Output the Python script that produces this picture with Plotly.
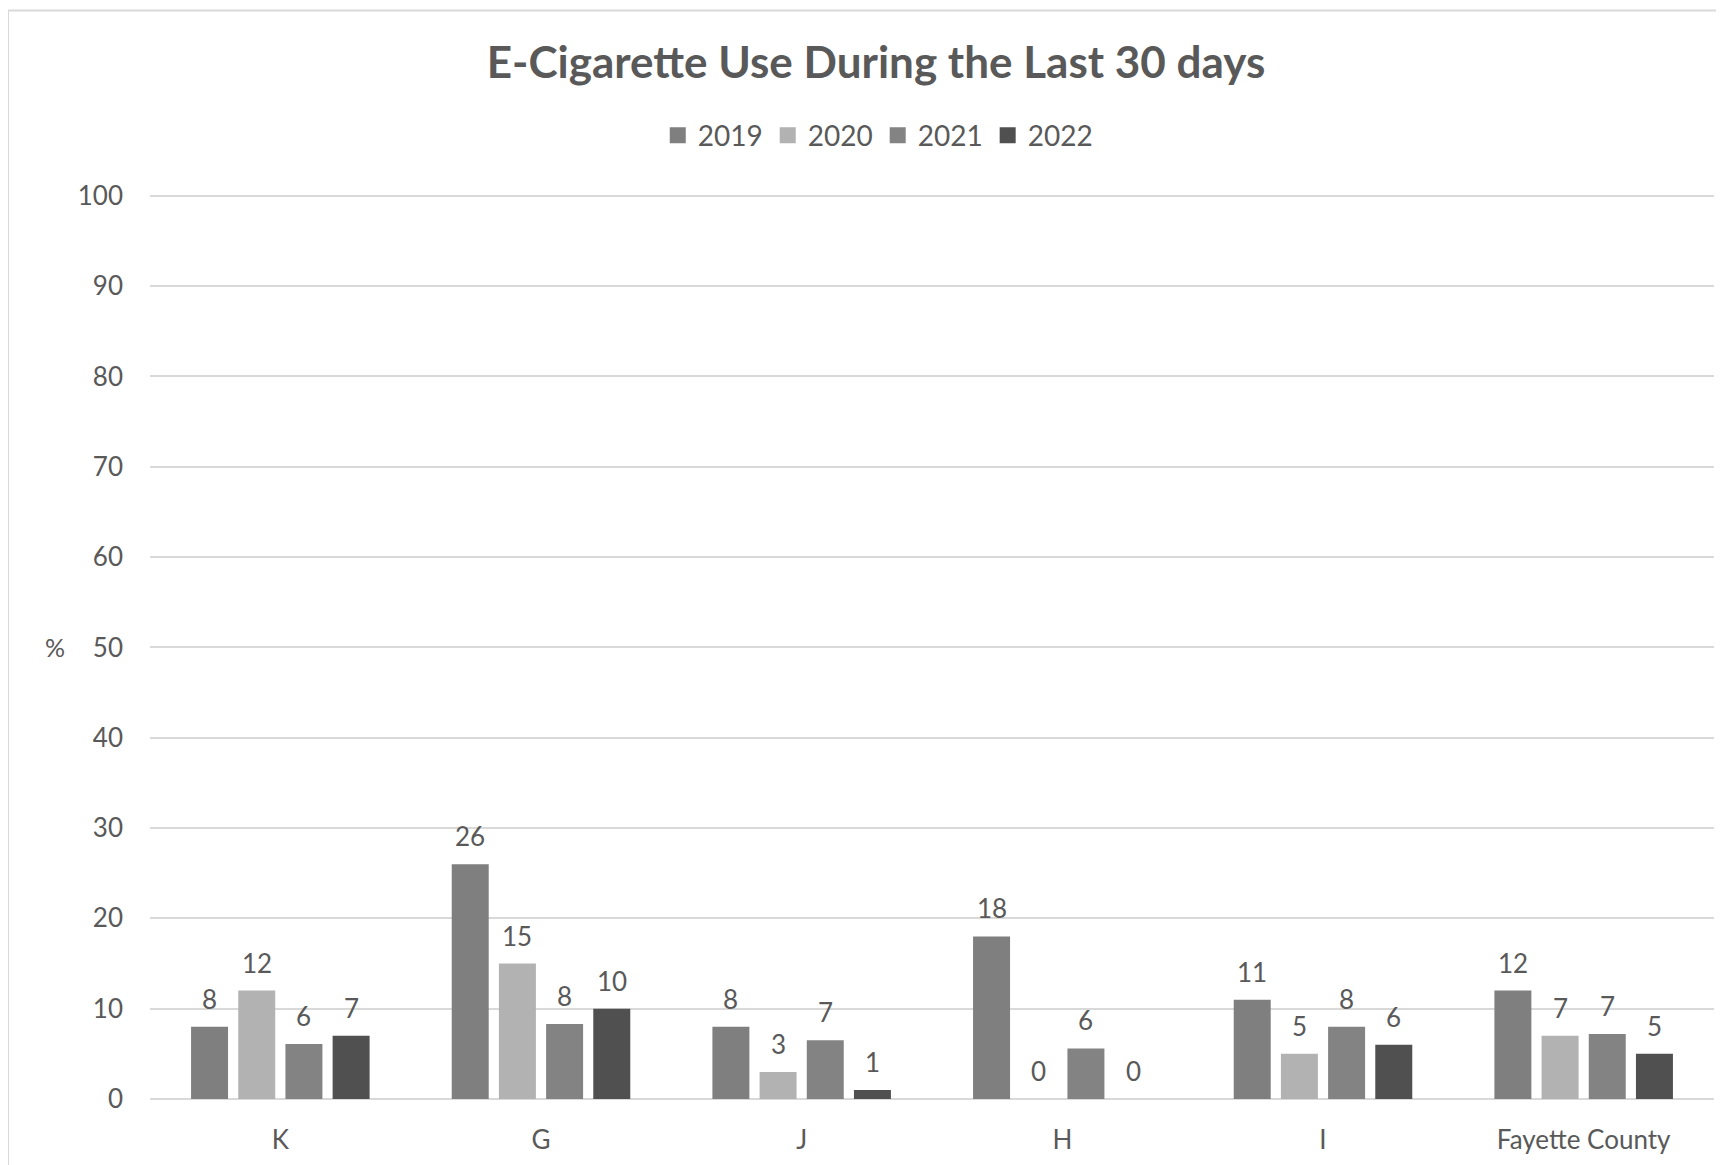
import math
import plotly.graph_objects as go

categories = ["K", "G", "J", "H", "I", "Fayette County"]
years = ["2019", "2020", "2021", "2022"]
v2019 = [8, 26, 8, 18, 11, 12]
v2020 = [12, 15, 3, 0, 5, 7]
v2021 = [6.1, 8.3, 6.5, 5.6, 8, 7.2]
v2022 = [7, 10, 1, 0, 6, 5]
series = [v2019, v2020, v2021, v2022]
colors = ["#7f7f7f", "#b2b2b2", "#838383", "#505050"]

TEXT = "#595959"
FONT = "Lato, Open Sans, sans-serif"
OFF = 8  # default page body margin
W, H = 1724 - OFF, 1165 - OFF
L = 150 - OFF
PR = 1714.5 - OFF
R = W - PR
YMAX = 100.2
UNIT = (1098.3 - 195.3) / 100.0
B = H - (1099.5 - OFF)
T = (196.3 - OFF) - (YMAX - 100) * UNIT

pw = W - L - R
ph = H - T - B

CATW = pw / len(categories)
SLOT = 47.2  # px between bars in a group
GROUP = 4 * SLOT

fig = go.Figure()
for i, (name, vals, col) in enumerate(zip(years, series, colors)):
    fig.add_trace(go.Bar(
        x=categories, y=vals, name=name, showlegend=False,
        marker=dict(color=col, line=dict(width=0)),
    ))
    # legend entry with a larger square
    fig.add_trace(go.Scatter(
        x=[None], y=[None], mode="markers", name=name,
        marker=dict(symbol="square", size=16, color=col),
    ))


def fmt(v):
    return str(int(math.floor(v + 0.5)))


annotations = []
for i, vals in enumerate(series):
    for c, v in zip(categories, vals):
        annotations.append(dict(
            x=c, y=v, xref="x", yref="y", text=fmt(v), showarrow=False,
            xanchor="center", yanchor="middle",
            xshift=(i - 1.5) * SLOT, yshift=28,
            font=dict(size=26, color=TEXT, family=FONT),
        ))
annotations.append(dict(text="%", xref="paper", yref="paper",
                        x=(55 - OFF - L) / pw, y=50 / YMAX, showarrow=False,
                        xanchor="center", yanchor="middle",
                        font=dict(size=25, color=TEXT, family=FONT)))

fig.update_layout(
    width=W, height=H,
    margin=dict(l=L, r=R, t=T, b=B, autoexpand=False),
    paper_bgcolor="white", plot_bgcolor="white",
    font=dict(family=FONT, color=TEXT, size=26),
    title=dict(text="<b>E-Cigarette Use During the Last 30 days</b>",
               x=(876 - OFF) / W, xanchor="center", xref="container",
               y=1 - (63 - OFF) / H, yanchor="middle", yref="container",
               font=dict(size=44, color=TEXT, family=FONT)),
    barmode="group", bargap=1 - GROUP / CATW, bargroupgap=10.2 / SLOT,
    legend=dict(orientation="h", x=(878 - OFF - L) / pw, xanchor="center",
                y=(1099.5 - 136) / ph, yanchor="middle",
                font=dict(size=28, color=TEXT, family=FONT),
                itemwidth=30, traceorder="normal", itemclick=False),
    showlegend=True,
    xaxis=dict(showgrid=False, showline=False, zeroline=False,
               ticks="", range=[-0.5, 5.5],
               tickfont=dict(size=26, color=TEXT, family=FONT),
               ticklabelstandoff=23),
    yaxis=dict(range=[0, YMAX], tickvals=list(range(0, 101, 10)),
               showgrid=True, gridcolor="#d9d9d9",
               gridwidth=1.5, zeroline=True, zerolinecolor="#d9d9d9",
               zerolinewidth=2, showline=False, ticks="",
               tickfont=dict(size=26, color=TEXT, family=FONT),
               ticklabelstandoff=26),
    annotations=annotations,
    shapes=[dict(type="rect", xref="paper", yref="paper",
                 x0=(8 - OFF - L) / pw, x1=(W + 20 - L) / pw,
                 y0=-(B + 20) / ph, y1=(H - B - (11 - OFF)) / ph,
                 line=dict(color="#d9d9d9", width=2), layer="below")],
)
fig.write_html("out.html")
